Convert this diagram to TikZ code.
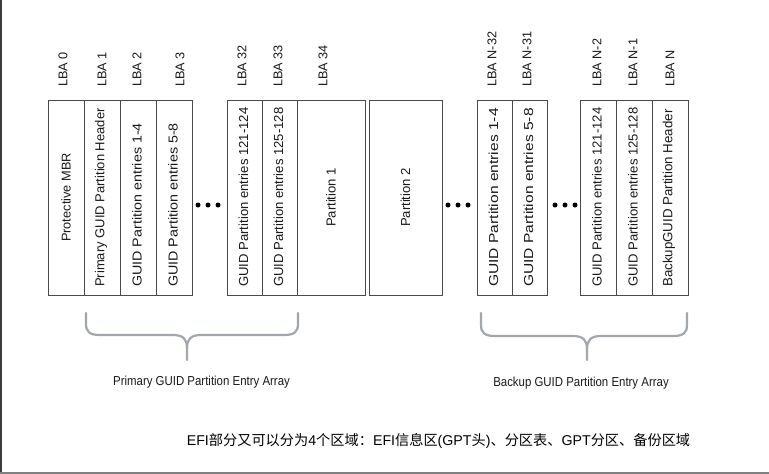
\documentclass[tikz,border=0pt]{standalone}
\usepackage{fontspec}
\usepackage{graphicx}
\setmainfont{Liberation Sans}
\newfontfamily\cjk{Noto Sans CJK SC}
\definecolor{boxline}{HTML}{4A4A4A}
\definecolor{txt}{HTML}{1A1A1A}
\definecolor{bracec}{HTML}{A2A7AE}
\definecolor{leftc}{HTML}{3C3C3C}
\definecolor{bandc}{HTML}{808080}
\begin{document}
\begin{tikzpicture}[x=1pt,y=-1pt,
  cell/.style={draw=boxline, line width=1pt, minimum height=195pt, inner sep=0pt},
  bt/.style={rotate=90, anchor=west, inner sep=0pt, text=txt, font=\fontsize{#1}{16}\selectfont},
  bc/.style={rotate=90, anchor=center, inner sep=0pt, text=txt, font=\fontsize{#1}{16}\selectfont},
  lba/.style={rotate=90, anchor=west, inner sep=0pt, text=txt, font=\fontsize{12.7}{14}\selectfont},
  dot/.style={circle, fill=black, inner sep=0pt, minimum size=5pt},
  brace/.style={draw=bracec, line width=2.2pt, line cap=round, line join=round},
  blabel/.style={inner sep=0pt, text=txt, font=\fontsize{13}{15}\selectfont}]
\useasboundingbox (0,0) rectangle (769,474);
\fill[white] (0,0) rectangle (769,474);
\fill[leftc] (0,0) rectangle (2,474);
\fill[bandc] (0,471.5) rectangle (769,474);

% boxes
\node[cell, minimum width=36pt] (b0) at (66,197.5) {};
\node[cell, minimum width=36pt] (b1) at (102,197.5) {};
\node[cell, minimum width=36pt] (b2) at (138,197.5) {};
\node[cell, minimum width=36pt] (b3) at (174,197.5) {};
\node[cell, minimum width=35pt] (b32) at (244.5,197.5) {};
\node[cell, minimum width=35pt] (b33) at (279.5,197.5) {};
\node[cell, minimum width=68pt] (b34) at (331,197.5) {};
\node[cell, minimum width=73pt] (p2) at (405.5,197.5) {};
\node[cell, minimum width=35pt] (n32) at (494.5,197.5) {};
\node[cell, minimum width=35pt] (n31) at (529.5,197.5) {};
\node[cell, minimum width=36pt] (n2) at (598,197.5) {};
\node[cell, minimum width=36.5pt] (n1) at (634.25,197.5) {};
\node[cell, minimum width=35.5pt] (n0) at (670.25,197.5) {};

% box texts
\node[bc=12.8] (t0) at (b0.center) {Protective MBR};
\node[bt=13] (t1) at (101,287) {Primary GUID Partition Header};
\node[bt=13] (t2) at (137,287) {\scalebox{1.1}[1]{GUID Partition entries 1-4}};
\node[bt=13] (t3) at (173,287) {\scalebox{1.1}[1]{GUID Partition entries 5-8}};
\node[bt=13.1] (t32) at (243.5,287) {GUID Partition entries 121-124};
\node[bt=13.1] (t33) at (278.5,287) {GUID Partition entries 125-128};
\node[bc=13.1] (t34) at (b34.center) {Partition 1};
\node[bc=13.1] (tp2) at (p2.center) {Partition 2};
\node[bt=13] (tn32) at (493.5,287) {\scalebox{1.2}[1]{GUID Partition entries 1-4}};
\node[bt=13] (tn31) at (528.5,287) {\scalebox{1.2}[1]{GUID Partition entries 5-8}};
\node[bt=13.1] (tn2) at (597,287) {GUID Partition entries 121-124};
\node[bt=13.1] (tn1) at (633,287) {GUID Partition entries 125-128};
\node[bt=13.3] (tn0) at (669,287) {BackupGUID Partition Header};

% LBA labels
\node[lba] (l0) at (63,87) {LBA 0};
\node[lba] (l1) at (102,87) {LBA 1};
\node[lba] (l2) at (137,87) {LBA 2};
\node[lba] (l3) at (180,87) {LBA 3};
\node[lba] (l32) at (242,87) {LBA 32};
\node[lba] (l33) at (278,87) {LBA 33};
\node[lba] (l34) at (323,87) {LBA 34};
\node[lba] (ln32) at (492,87) {LBA N-32};
\node[lba] (ln31) at (527,87) {LBA N-31};
\node[lba] (ln2) at (597,87) {LBA N-2};
\node[lba] (ln1) at (633,87) {LBA N-1};
\node[lba] (ln0) at (670,87) {LBA N};

% dots
\foreach \i/\x in {a/198,b/208,c/218,d/448,e/458,f/468,g/555,h/565,k/575}
  \node[dot] (dot\i) at (\x,205) {};

% braces
\draw[brace] (86,313) -- (86,324) .. controls (86,332) and (90,335) .. (100,335)
  -- (173,335) .. controls (183,335) and (187,339) .. (187,348) -- (187,360);
\draw[brace] (298,313) -- (298,324) .. controls (298,332) and (294,335) .. (284,335)
  -- (201,335) .. controls (191,335) and (187,339) .. (187,348);
\draw[brace] (481,313) -- (481,325) .. controls (481,333) and (485,336) .. (495,336)
  -- (573,336) .. controls (583,336) and (587,340) .. (587,349) -- (587,360);
\draw[brace] (687,313) -- (687,325) .. controls (687,333) and (683,336) .. (673,336)
  -- (601,336) .. controls (591,336) and (587,340) .. (587,349);

\node[blabel] (pl) at (201.5,382) {\scalebox{0.88}[1]{Primary GUID Partition Entry Array}};
\node[blabel] (bl) at (581,383) {\scalebox{0.88}[1]{Backup GUID Partition Entry Array}};

\node[inner sep=0pt, text=black, font=\fontsize{14.2}{17}\selectfont] (cap) at (438.5,441)
  {EFI{\cjk 部分又可以分为}4{\cjk 个区域：}EFI{\cjk 信息区}(GPT{\cjk 头}){\cjk 、分区表、}GPT{\cjk 分区、备份区域}};
\end{tikzpicture}
\end{document}
